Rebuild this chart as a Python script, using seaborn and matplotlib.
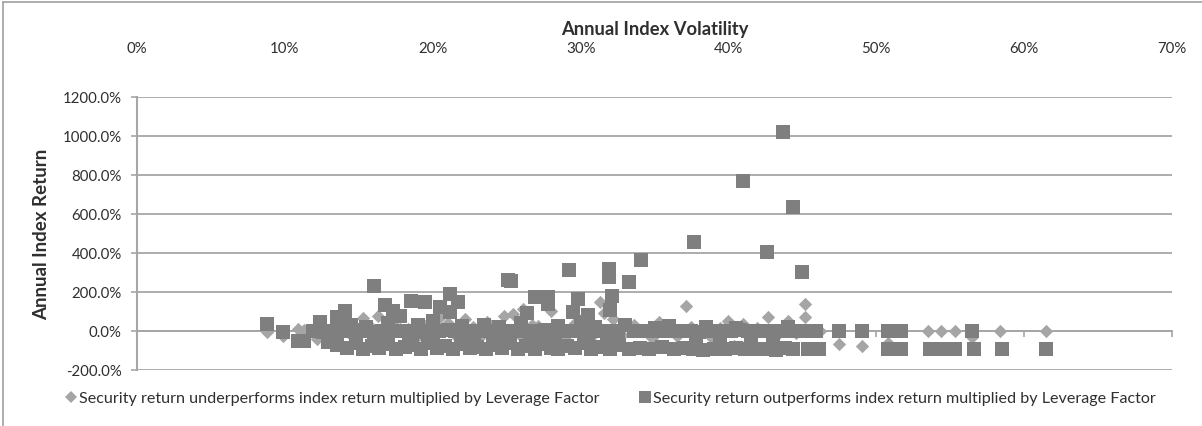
import matplotlib
matplotlib.use("Agg")
import matplotlib.pyplot as plt
import seaborn as sns
import pandas as pd
from matplotlib.ticker import FuncFormatter
from matplotlib.lines import Line2D

# ---------------- data (percent units) ----------------
under_label = "Security return underperforms index return multiplied by Leverage Factor"
over_label = "Security return outperforms index return multiplied by Leverage Factor"

under_x = [8.8, 9.9, 10.9, 11.3, 12.2, 12.9, 13.5, 14.0, 14.6, 15.3, 15.8, 16.3, 16.9, 17.4,
           17.8, 18.3, 18.9, 19.5, 20.0, 20.5, 21.0, 21.6, 22.2, 22.7, 23.2, 23.7, 24.2, 24.8,
           25.4, 25.9, 26.1, 26.7, 27.1, 27.6, 28.0, 28.0, 28.5, 29.0, 29.6, 30.1, 30.7, 31.3,
           31.6, 32.2, 32.8, 33.6, 34.2, 34.8, 35.3, 35.9, 36.5, 37.1, 37.5, 38.2, 38.8, 39.4,
           40.0, 40.4, 41.0, 41.3, 41.9, 42.7, 43.3, 44.0, 44.6, 45.2, 45.2, 46.2, 47.5, 49.0,
           50.8, 53.5, 54.4, 55.3, 56.5, 58.4, 61.5]
under_y = [-5, -25, 10, 5, -40, -40, -10, 15, -30, 67, 20, 77, -20, 30,
           72, 10, -35, 25, -15, 72, 40, -25, 62, 20, -30, 46, 10, 77,
           87, -20, 113, 30, 26, -40, 103, -56, 15, -25, 40, 10, -30, 149,
           90, 62, -20, 31, 5, -35, 46, 10, -25, 128, 20, 10, -30, 15,
           51, -77, 36, -62, 15, 72, -20, 51, -10, 138, 72, 0, -65, -75,
           -60, 0, 0, 0, -30, 0, 0]

over_x = [
    # left cluster and positive outliers
    8.8, 9.9, 10.9, 11.3, 12.4, 13.5, 14.1, 16.0, 16.8, 17.3, 17.8, 18.5, 19.5, 20.5,
    21.2, 21.2, 21.7, 25.1, 25.3, 26.4, 26.9, 27.8, 27.8, 29.2, 29.5, 29.8, 30.5, 31.9,
    31.9, 32.1, 32.0, 33.3, 34.1, 37.7, 41.0, 42.6, 43.7, 44.4, 45.0,
    # small positive
    14.5, 15.5, 17.0, 19.0, 20.0, 22.0, 23.5, 24.5, 26.0, 28.5, 30.0, 31.0, 33.0, 35.0,
    36.0, 38.5, 40.5, 44.0,
    # zero row
    11.9, 12.6, 13.2, 13.8, 14.3, 14.9, 15.4, 16.0, 16.6, 17.1, 17.7, 18.2, 18.8, 19.3,
    19.9, 20.4, 21.0, 21.5, 22.1, 22.6, 23.2, 23.7, 24.3, 24.8, 25.4, 25.9, 26.5, 27.0,
    27.6, 28.1, 28.7, 29.2, 29.8, 30.3, 30.9, 31.4, 32.0, 32.5, 33.6, 34.2, 34.7, 35.3,
    35.8, 36.4, 36.9, 37.5, 38.0, 38.6, 39.1, 39.7, 40.2, 40.8, 41.3, 41.9, 42.4, 43.0,
    43.5, 44.1, 44.6, 45.1, 45.9, 47.5, 49.0, 50.8, 51.7, 56.5,
    # mid negative
    16.2, 18.4, 20.0, 22.8, 24.5, 26.6, 28.3, 30.5, 31.8, 37.8, 39.4, 41.5, 43.0,
    # lower rows
    12.9, 13.5, 14.2, 14.8, 15.3, 15.9, 16.4, 17.0, 17.5, 18.1, 18.6, 19.2, 19.7, 20.3,
    20.8, 21.4, 21.9, 22.5, 23.0, 23.6, 24.1, 24.7, 25.2, 25.8, 26.3, 26.9, 27.4, 28.0,
    28.5, 29.1, 29.6, 30.2, 30.7, 31.3, 32.0, 32.6, 33.3, 34.0, 34.6, 35.5, 36.3, 37.0,
    37.6, 38.3, 39.0, 39.8, 40.5, 41.1, 41.8, 42.6, 43.2, 43.8, 44.4, 45.4, 46.1, 50.8,
    51.7, 53.6, 54.5, 55.3, 56.6, 58.5, 61.5]
over_y = [
    36, -5, -51, -51, 46, 72, 103, 231, 133, 103, 77, 154, 149, 123,
    190, 97, 149, 262, 257, 90, 174, 174, 138, 313, 100, 164, 82, 318,
    277, 180, 108, 251, 364, 456, 769, 405, 1020, 636, 302,
    30, 20, 40, 30, 50, 25, 30, 20, 40, 25, 45, 20, 30, 15,
    25, 20, 15, 20,
    0, -3, 2, 0, -2, 3, 0, -4, 1, 0, -2, 2, 0, -3,
    1, 0, 3, -2, 0, 2, -1, 0, -3, 1, 0, 2, -2, 0,
    3, 0, -1, 2, 0, -3, 1, 0, 2, -2, 0, 1, -1, 0,
    2, -2, 0, 1, -3, 0, 2, -1, 0, 3, -2, 0, 1, -1,
    0, 2, -2, 0, 0, 0, 0, 0, 0, 0,
    -40, -35, -45, -38, -42, -35, -45, -40, -30, -45, -40, -35, -45,
    -55, -70, -85, -60, -90, -75, -88, -65, -92, -80, -70, -90, -60, -85,
    -75, -92, -65, -88, -80, -93, -70, -86, -60, -90, -78, -92, -68, -85,
    -94, -75, -88, -62, -91, -80, -93, -70, -90, -85, -92, -80, -94, -88,
    -92, -95, -90, -93, -85, -94, -90, -92, -95, -88, -93, -90, -92, -92,
    -90, -93, -92, -94, -93, -94, -93]

x_ticks = [0, 10, 20, 30, 40, 50, 60, 70]
y_ticks = [-200, 0, 200, 400, 600, 800, 1000, 1200]

under_df = pd.DataFrame({"vol": under_x, "ret": under_y})
over_df = pd.DataFrame({"vol": over_x, "ret": over_y})

# ---------------- style ----------------
sns.set_theme(style="white")
plt.rcParams["font.family"] = ["Lato", "DejaVu Sans"]
txt = "#2f2f2f"
grid_c = "#a6a6a6"
under_c = "#a5a5a5"
over_c = "#7f7f7f"
tick_fs = 10.8
legend_fs = 11.6

fig = plt.figure(figsize=(12.02, 4.27), dpi=100)
ax = fig.add_axes([137 / 1202, 1 - 371 / 427, (1172 - 137) / 1202, (371 - 98) / 427])

sns.scatterplot(data=under_df, x="vol", y="ret", ax=ax, marker="D", s=46,
                color=under_c, linewidth=0, zorder=3)
sns.scatterplot(data=over_df, x="vol", y="ret", ax=ax, marker="s", s=92,
                color=over_c, linewidth=0, zorder=4)

ax.set_xlim(0, 70)
ax.set_ylim(-200, 1200)
ax.set_xticks(x_ticks)
ax.set_yticks(y_ticks)
ax.xaxis.set_major_formatter(FuncFormatter(lambda v, p: f"{v:.0f}%"))
ax.yaxis.set_major_formatter(FuncFormatter(lambda v, p: f"{v:.1f}%"))

# horizontal gridlines
ax.yaxis.grid(True, color=grid_c, linewidth=1.3)
ax.xaxis.grid(False)
ax.set_axisbelow(True)

# spines
for s in ["top", "right"]:
    ax.spines[s].set_visible(False)
ax.spines["left"].set_color(grid_c)
ax.spines["left"].set_linewidth(1.5)
ax.spines["bottom"].set_position(("data", 0))
ax.spines["bottom"].set_color(grid_c)
ax.spines["bottom"].set_linewidth(1.3)

ax.tick_params(axis="x", which="both", bottom=True, top=False, labelbottom=False,
               labeltop=True, direction="out", length=4, width=1.2, color=grid_c,
               pad=26, labelsize=tick_fs, labelcolor=txt)
ax.tick_params(axis="y", which="both", left=True, direction="out", length=4, width=1.2,
               color=grid_c, pad=7, labelsize=tick_fs, labelcolor=txt)

ax.xaxis.set_label_position("top")
ax.set_xlabel("Annual Index Volatility", fontsize=13.2, fontweight="bold", color=txt, labelpad=5)
ax.set_ylabel("Annual Index Return", fontsize=13.5, fontweight="bold", color=txt, labelpad=9)

# legend
handles = [
    Line2D([], [], marker="D", color=under_c, linestyle="none", markersize=6.5, markeredgewidth=0),
    Line2D([], [], marker="s", color=over_c, linestyle="none", markersize=9, markeredgewidth=0),
]
fig.legend(handles, [under_label, over_label], loc="center left",
           bbox_to_anchor=(60 / 1202, 1 - 399 / 427), ncol=2, frameon=False,
           fontsize=legend_fs, labelcolor=txt, handlelength=0.55, handletextpad=0.25,
           columnspacing=2.5, borderaxespad=0)

# chart frame (top and left border)
fig.add_artist(Line2D([3 / 1202, 1.0], [1 - 3 / 427, 1 - 3 / 427], transform=fig.transFigure,
                      color="#a0a0a0", linewidth=1.2))
fig.add_artist(Line2D([3 / 1202, 3 / 1202], [0, 1 - 3 / 427], transform=fig.transFigure,
                      color="#a0a0a0", linewidth=1.2))

fig.savefig("out.png", dpi=100)
